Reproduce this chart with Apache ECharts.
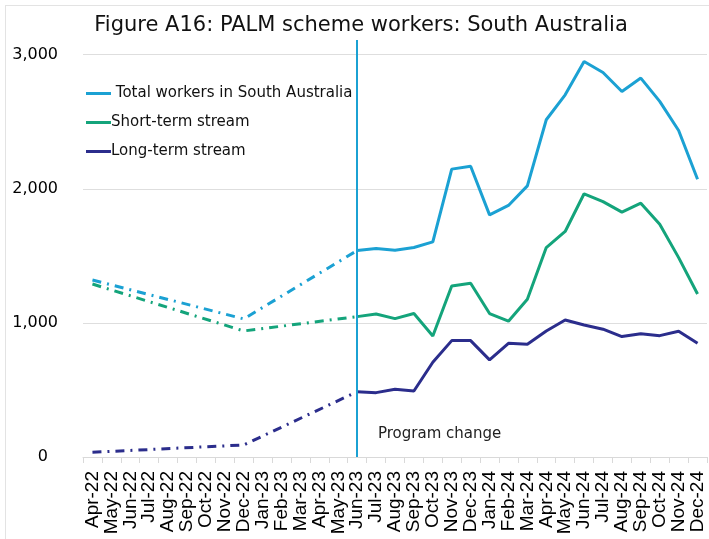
<!DOCTYPE html>
<html>
<head>
<meta charset="utf-8">
<script src="https://cdn.jsdelivr.net/npm/echarts@6/dist/echarts.min.js"></script>
<style>
  html, body { margin: 0; padding: 0; background: #fff; overflow: hidden; }
  .frame { position: absolute; left: 5px; top: 5px; width: 720px; height: 560px; border: 1px solid #e3e3e3; }
  .com-echarts { position: absolute; left: 0; top: 0; width: 709px; height: 539px; }
</style>
</head>
<body>
<div class="frame"></div>
<div class="com-echarts" id="main"></div>
<script>
// months Apr-22 .. Dec-24
const months = [
  "Apr-22", "May-22", "Jun-22", "Jul-22", "Aug-22", "Sep-22", "Oct-22", "Nov-22", "Dec-22",
  "Jan-23", "Feb-23", "Mar-23", "Apr-23", "May-23", "Jun-23", "Jul-23", "Aug-23", "Sep-23",
  "Oct-23", "Nov-23", "Dec-23", "Jan-24", "Feb-24", "Mar-24", "Apr-24", "May-24", "Jun-24",
  "Jul-24", "Aug-24", "Sep-24", "Oct-24", "Nov-24", "Dec-24"
];
const yTicks = [0, 1000, 2000, 3000];
const yTop = 3110; // axis runs a bit past 3,000 so the divider line reaches above it
const changeMonth = "Jun-23";

// before the program change only Apr-22, Dec-22 and Jun-23 are known (dash-dot)
const totalEarly = [1320, null, null, null, null, null, null, null, 1030,
  null, null, null, null, null, 1540];
const shortEarly = [1290, null, null, null, null, null, null, null, 940,
  null, null, null, null, null, 1047];
const longEarly = [35, null, null, null, null, null, null, null, 90,
  null, null, null, null, null, 487];

// Jun-23 .. Dec-24 monthly (solid)
const totalLate = [1540, 1555, 1542, 1562, 1604, 2147, 2169, 1806, 1876, 2022,
  2515, 2701, 2950, 2868, 2726, 2826, 2652, 2435, 2072];
const shortLate = [1047, 1067, 1032, 1070, 903, 1276, 1296, 1070, 1013, 1177,
  1562, 1682, 1963, 1905, 1826, 1893, 1736, 1487, 1216];
const longLate = [487, 480, 505, 492, 707, 868, 868, 724, 848, 841,
  940, 1022, 985, 953, 898, 920, 905, 938, 848];

const colTotal = "#1ba1d3";
const colShort = "#14a47b";
const colLong = "#2b2d8c";

const startIdx = months.indexOf(changeMonth);
function pad(arr) {
  return new Array(startIdx).fill(null).concat(arr);
}

const chart = echarts.init(document.getElementById("main"));

function dashed(name, data, color) {
  return {
    name: name,
    type: "line",
    data: data,
    connectNulls: true,
    symbol: "none",
    lineStyle: { color: color, width: 3, type: [9, 6, 2, 6] },
    itemStyle: { color: color },
    z: 2
  };
}
function solid(name, data, color) {
  return {
    name: name,
    type: "line",
    data: pad(data),
    symbol: "none",
    lineStyle: { color: color, width: 3 },
    itemStyle: { color: color },
    z: 3
  };
}

const totalSeries = solid("Total workers in South Australia", totalLate, colTotal);
totalSeries.markLine = {
  silent: true,
  symbol: "none",
  label: { show: false },
  lineStyle: { color: colTotal, width: 2, type: "solid" },
  data: [{ xAxis: changeMonth }]
};

const option = {
  animation: false,
  title: {
    text: "Figure A16: PALM scheme workers: South Australia",
    left: 356,
    top: 10,
    textAlign: "center",
    textStyle: { fontFamily: "DejaVu Sans", fontSize: 21, fontWeight: "normal", color: "#111" }
  },
  grid: { left: 83, right: 2, top: 40, bottom: 82 },
  legend: {
    orient: "vertical",
    left: 81,
    top: 81,
    itemWidth: 25,
    itemHeight: 3,
    itemGap: 14,
    icon: "rect",
    data: ["Total workers in South Australia", "Short-term stream", "Long-term stream"],
    formatter: function (n) { return n.indexOf("Total") === 0 ? " " + n : n; },
    textStyle: { fontFamily: "DejaVu Sans", fontSize: 15, color: "#111", padding: [0, 0, 0, -5] }
  },
  xAxis: {
    type: "category",
    data: months,
    boundaryGap: true,
    axisLine: { lineStyle: { color: "#d9d9d9", width: 1 } },
    axisTick: { show: true, interval: 0, length: 6, lineStyle: { color: "#d9d9d9" } },
    axisLabel: {
      interval: 0,
      rotate: 90,
      margin: 14,
      fontFamily: "Liberation Sans",
      fontSize: 19,
      color: "#000"
    }
  },
  yAxis: {
    type: "value",
    min: yTicks[0],
    max: yTop,
    interval: 1000,
    axisLine: { show: false },
    axisTick: { show: false },
    splitLine: { showMaxLine: false, lineStyle: { color: "#dedede", width: 1 } },
    axisLabel: {
      margin: 25,
      showMaxLabel: false,
      fontFamily: "DejaVu Sans",
      fontSize: 16,
      color: "#000",
      formatter: function (v) {
        if (yTicks.indexOf(v) < 0) return "";
        return v === 0 ? "0  " : v.toLocaleString("en-US");
      }
    }
  },
  graphic: [{
    type: "text",
    left: 378,
    top: 427,
    style: { text: "Program change", fontFamily: "DejaVu Sans", fontSize: 15, fill: "#222" }
  }],
  series: [
    dashed("total-early", totalEarly, colTotal),
    dashed("short-early", shortEarly, colShort),
    dashed("long-early", longEarly, colLong),
    totalSeries,
    solid("Short-term stream", shortLate, colShort),
    solid("Long-term stream", longLate, colLong)
  ]
};

chart.setOption(option);
window.addEventListener("resize", function () { chart.resize(); });
</script>
</body>
</html>
